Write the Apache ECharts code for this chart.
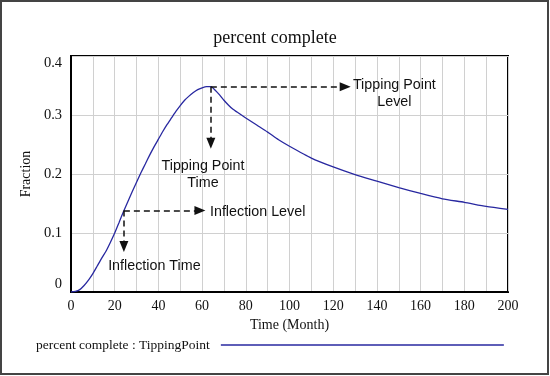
<!DOCTYPE html>
<html>
<head>
<meta charset="utf-8">
<script src="https://cdn.jsdelivr.net/npm/echarts@6/dist/echarts.min.js"></script>
<style>
  html, body { margin: 0; padding: 0; background: #fff; }
  #chart { width: 550px; height: 376px; }
</style>
</head>
<body>
<div id="chart"></div>
<script>
// time (Month) and percent complete
const months = [0, 2, 4, 6, 8, 10, 12, 14, 16, 18, 20, 22, 24, 26, 28, 30, 32, 34, 36, 38,
  40, 42, 44, 46, 48, 50, 52, 54, 56, 58, 60, 62, 64, 66, 68, 70, 72, 74, 76, 78, 80,
  85, 90, 95, 100, 110, 120, 130, 140, 150, 160, 170, 180, 190, 200]
const percentComplete = [0, 0.001, 0.004, 0.011, 0.02, 0.031, 0.044, 0.057, 0.069, 0.084,
  0.1, 0.118, 0.136, 0.153, 0.17, 0.186, 0.202, 0.217, 0.232, 0.246,
  0.259, 0.272, 0.284, 0.295, 0.306, 0.316, 0.325, 0.332, 0.338, 0.343,
  0.346, 0.348, 0.348, 0.342, 0.334, 0.325, 0.317, 0.31, 0.305, 0.3, 0.295,
  0.283, 0.271, 0.258, 0.247, 0.227, 0.212, 0.199, 0.188, 0.177, 0.167, 0.158, 0.152, 0.145, 0.14]

const xTicks = [0, 20, 40, 60, 80, 100, 120, 140, 160, 180, 200]

// annotation arrows: [from, to] in data coordinates
const arrows = [
  [[64, 0.348], [125.5, 0.348]],
  [[64, 0.348], [64, 0.252]],
  [[24.2, 0.138], [59, 0.138]],
  [[24.2, 0.138], [24.2, 0.077]]
]
// annotation texts
const notes = [
  { text: 'Tipping Point\nLevel', at: [148, 0.336], align: 'center' },
  { text: 'Tipping Point\nTime', at: [60.4, 0.199], align: 'center' },
  { text: 'Inflection Level', at: [63.6, 0.135], align: 'left' },
  { text: 'Inflection Time', at: [17, 0.044], align: 'left' }
]

const serif = '"Liberation Serif", "DejaVu Serif", serif'
const sans = '"Liberation Sans", Arial, sans-serif'

const chart = echarts.init(document.getElementById('chart'))

const option = {
  backgroundColor: '#fff',
  animation: false,
  title: {
    text: 'percent complete',
    left: 'center',
    top: 24,
    textStyle: { fontFamily: serif, fontSize: 18, fontWeight: 'normal', color: '#111' }
  },
  legend: {
    left: 31,
    top: 333,
    align: 'right',
    icon: 'rect',
    itemWidth: 283,
    itemHeight: 1.5,
    textStyle: { fontFamily: serif, fontSize: 13.5, color: '#111', padding: [0, 6, 0, 0] },
    data: [{ name: 'percent complete : TippingPoint', itemStyle: { color: '#2828a0' } }]
  },
  grid: {
    left: 71,
    right: 42,
    top: 56,
    bottom: 84,
    show: true,
    borderColor: '#000',
    borderWidth: 2
  },
  xAxis: {
    type: 'value',
    min: 0,
    max: 200,
    interval: 10,
    name: 'Time (Month)',
    nameLocation: 'middle',
    nameGap: 25,
    nameTextStyle: { fontFamily: serif, fontSize: 14, color: '#111' },
    axisLine: { show: true, lineStyle: { color: '#000', width: 2 } },
    axisTick: { show: false },
    axisLabel: {
      fontFamily: serif, fontSize: 14, color: '#111', margin: 7,
      formatter: v => xTicks.includes(v) ? String(v) : ''
    },
    splitLine: { show: true, lineStyle: { color: '#d0d0d0', width: 1 } }
  },
  yAxis: {
    type: 'value',
    min: 0,
    max: 0.4,
    interval: 0.1,
    name: 'Fraction',
    nameLocation: 'middle',
    nameGap: 36,
    nameTextStyle: { fontFamily: serif, fontSize: 14, color: '#111' },
    axisLine: { show: true, lineStyle: { color: '#000', width: 2 } },
    axisTick: { show: false },
    axisLabel: {
      fontFamily: serif, fontSize: 14.5, color: '#111', margin: 9,
      verticalAlignMaxLabel: 'top',
      verticalAlignMinLabel: 'bottom',
      formatter: v => v === 0 ? '0' : v.toFixed(1)
    },
    splitLine: { show: true, lineStyle: { color: '#d0d0d0', width: 1 } }
  },
  graphic: [{
    type: 'rect',
    shape: { x: 1, y: 1, width: 547, height: 373 },
    style: { fill: 'none', stroke: '#444', lineWidth: 2 },
    silent: true
  }],
  series: [
    {
      name: 'percent complete : TippingPoint',
      type: 'line',
      data: months.map((m, i) => [m, percentComplete[i]]),
      showSymbol: false,
      smooth: 0.2,
      lineStyle: { color: '#2828a0', width: 1.3 },
      itemStyle: { color: '#2828a0' },
      markLine: {
        silent: true,
        symbol: ['none', 'triangle'],
        symbolSize: [9, 11],
        label: { show: false },
        lineStyle: { color: '#111', type: [6, 4], width: 1.5 },
        itemStyle: { color: '#111' },
        data: arrows.map(a => [{ coord: a[0] }, { coord: a[1] }])
      },
      markPoint: {
        silent: true,
        symbol: 'circle',
        symbolSize: 0,
        data: notes.map(n => ({
          coord: n.at,
          label: {
            show: true,
            position: 'inside',
            formatter: n.text,
            align: n.align,
            verticalAlign: 'middle',
            fontFamily: sans,
            fontSize: 14.3,
            lineHeight: 17,
            color: '#111'
          }
        }))
      }
    }
  ]
}

chart.setOption(option)
</script>
</body>
</html>
